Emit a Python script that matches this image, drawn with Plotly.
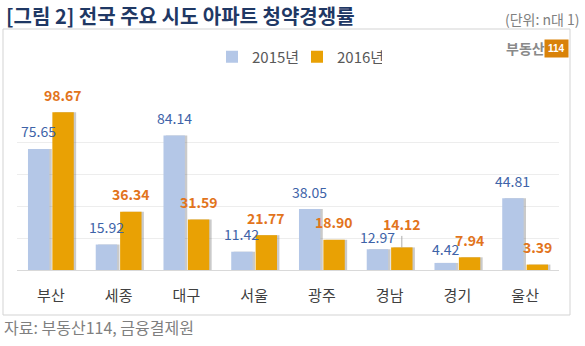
import plotly.graph_objects as go

categories = ["부산", "세종", "대구", "서울", "광주", "경남", "경기", "울산"]
v2015 = [75.65, 15.92, 84.14, 11.42, 38.05, 12.97, 4.42, 44.81]
v2016 = [98.67, 36.34, 31.59, 21.77, 18.90, 14.12, 7.94, 3.39]
series_names = ["2015년", "2016년"]

FONT = "Noto Sans CJK KR"
BLUE = "#B4C7E7"
ORANGE = "#E9A104"
BLUE_TXT = "#3E63A8"
ORANGE_TXT = "#E2741C"

W, H = 585, 346
L, R, T, B = 17, 26, 110, 76
pw, ph = W - L - R, H - T - B

def px(x):
    return (x - L) / pw

def py(y):
    return (H - B - y) / ph

bw = 0.316
off_blue = -0.338
off_orange = 0.022
sh = 0.035

fig = go.Figure()
# shadows
for vals, off in [(v2015, off_blue), (v2016, off_orange)]:
    fig.add_trace(go.Bar(x=categories, y=vals, width=bw, offset=off + sh,
                         marker=dict(color="rgba(90,90,90,0.32)", line_width=0),
                         showlegend=False, hoverinfo="skip"))
fig.add_trace(go.Bar(x=categories, y=v2015, name=series_names[0], width=bw, offset=off_blue,
                     marker=dict(color=BLUE, line_width=0)))
fig.add_trace(go.Bar(x=categories, y=v2016, name=series_names[1], width=bw, offset=off_orange,
                     marker=dict(color=ORANGE, line_width=0)))

shift = (off_blue + bw / 2) * pw / len(categories)
shift2 = (off_orange + bw / 2) * pw / len(categories)
blue_lift = {"경남": 12, "경기": 13.5}
for c, a, b in zip(categories, v2015, v2016):
    fig.add_annotation(x=c, y=a, xref="x", yref="y", text=f"{a:.2f}", showarrow=False,
                       xshift=shift, yshift=blue_lift.get(c, 17.5), yanchor="middle",
                       font=dict(family=FONT, size=14, color=BLUE_TXT))
    if c == "경남":
        fig.add_annotation(x=c, y=b, xref="x", yref="y", text=f"<b>{b:.2f}</b>", showarrow=True,
                           arrowhead=0, arrowwidth=0.8, arrowcolor="#999999", ax=0, ay=-23,
                           xshift=shift2, standoff=0,
                           font=dict(family=FONT, size=14, color=ORANGE_TXT))
    else:
        fig.add_annotation(x=c, y=b, xref="x", yref="y", text=f"<b>{b:.2f}</b>", showarrow=False,
                           xshift=shift2, yshift=17.5, yanchor="middle",
                           font=dict(family=FONT, size=14, color=ORANGE_TXT))

# outer box
fig.add_shape(type="rect", xref="paper", yref="paper",
              x0=px(3), x1=px(570), y0=py(315), y1=py(29),
              line=dict(color="#D3D3D3", width=1), fillcolor="rgba(0,0,0,0)", layer="below")

# title
fig.add_annotation(xref="paper", yref="paper", x=px(4), y=py(15), xanchor="left", yanchor="middle",
                   text="<b>[그림 2] 전국 주요 시도 아파트 청약경쟁률</b>", showarrow=False,
                   font=dict(family=FONT, size=20, color="#1F3864"))
fig.add_annotation(xref="paper", yref="paper", x=px(582), y=py(19), xanchor="right", yanchor="middle",
                   text="(단위: n대 1)", showarrow=False,
                   font=dict(family=FONT, size=14, color="#808080"))
# logo
fig.add_annotation(xref="paper", yref="paper", x=px(547), y=py(48), xanchor="right", yanchor="middle",
                   text="<b>부동산</b>", showarrow=False,
                   font=dict(family=FONT, size=14, color="#8A8A8A"))
fig.add_annotation(xref="paper", yref="paper", x=px(556), y=py(48), xanchor="center", yanchor="middle",
                   text="<b>114</b>", showarrow=False, bgcolor="#D98208", borderpad=3,
                   font=dict(family="Liberation Sans Narrow, Arial Narrow, Liberation Sans", size=10, color="white"))
# source
fig.add_annotation(xref="paper", yref="paper", x=px(2), y=py(327), xanchor="left", yanchor="middle",
                   text="자료: 부동산114, 금융결제원", showarrow=False,
                   font=dict(family=FONT, size=16, color="#7F7F7F"))

fig.update_layout(
    width=W, height=H, margin=dict(l=L, r=R, t=T, b=B, pad=0),
    paper_bgcolor="white", plot_bgcolor="white",
    barmode="overlay",
    font=dict(family=FONT, size=14, color="#595959"),
    legend=dict(orientation="h", x=px(297), y=py(57), xanchor="center", yanchor="middle",
                font=dict(family=FONT, size=15, color="#595959"),
                itemwidth=30, entrywidth=40, entrywidthmode="pixels",
                bgcolor="rgba(0,0,0,0)", traceorder="normal"),
    showlegend=True,
)
fig.update_xaxes(showgrid=False, showline=True, linecolor="#D9D9D9", linewidth=1,
                 ticks="", ticklabelstandoff=12,
                 tickfont=dict(family=FONT, size=15, color="#404040"),
                 range=[-0.5, len(categories) - 0.5])
fig.update_yaxes(range=[0, 100], showgrid=True, gridcolor="#EDEDED", gridwidth=1, dtick=20,
                 showticklabels=False, zeroline=False, showline=False)

fig.write_html("out.html")
